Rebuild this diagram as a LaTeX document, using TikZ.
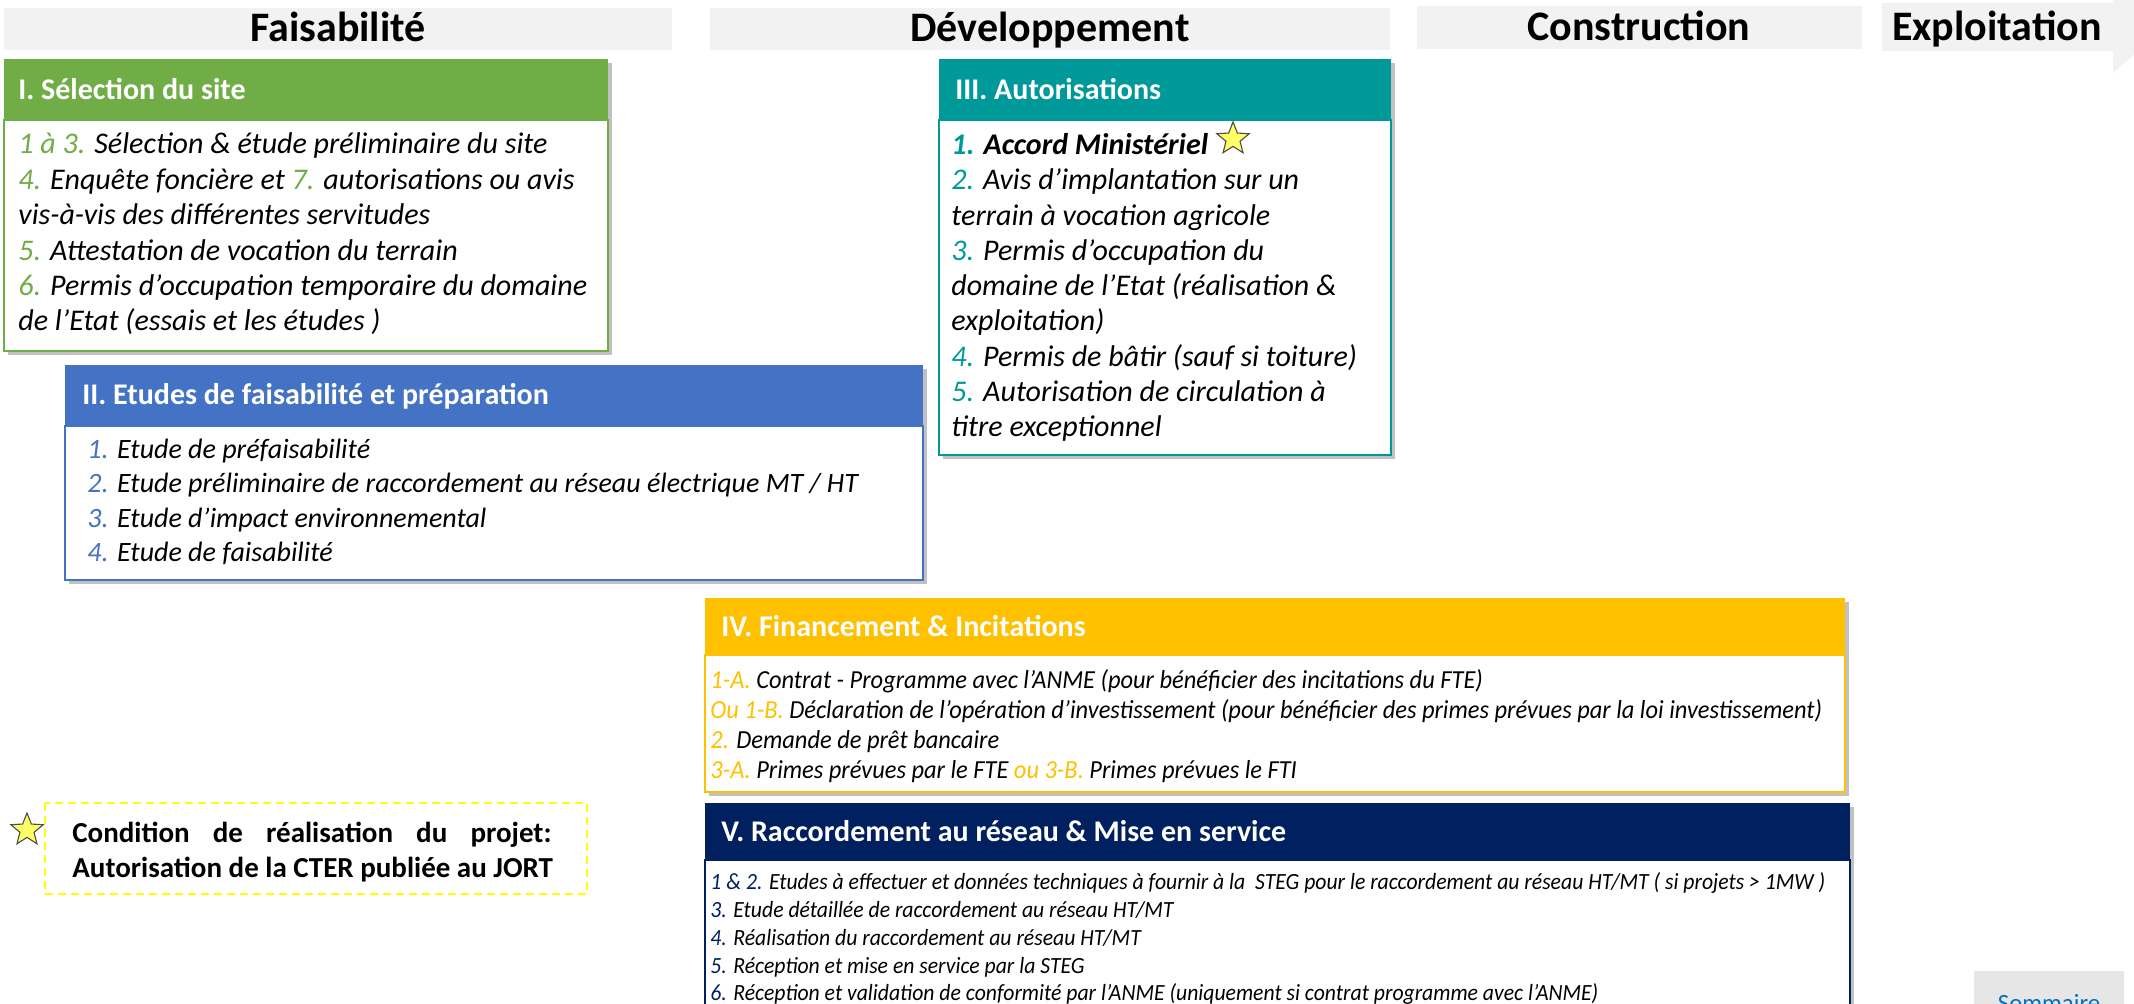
\documentclass[tikz,border=0pt]{standalone}
\usepackage{fontspec}
\setmainfont{Carlito}
\usetikzlibrary{shadows,shapes.geometric}
\definecolor{cgreen}{HTML}{70AD47}
\definecolor{cblue}{HTML}{4472C4}
\definecolor{cteal}{HTML}{009999}
\definecolor{cgold}{HTML}{FFC000}
\definecolor{cnavy}{HTML}{002060}
\definecolor{cphase}{HTML}{F2F2F2}
\definecolor{cbtn}{HTML}{E7E6E6}
\definecolor{csomm}{HTML}{0070C0}
\definecolor{cstar}{HTML}{FFFF66}
\definecolor{cdash}{HTML}{FFFF00}
\newcommand{\fsz}[2]{\fontsize{#1}{#2}\selectfont}
\newcommand{\numG}[1]{\textcolor{cgreen}{#1}}
\newcommand{\numB}[1]{\textcolor{cblue}{#1}}
\newcommand{\numT}[1]{\textcolor{cteal}{#1}}
\newcommand{\numD}[1]{\textcolor{cgold}{#1}}
\newcommand{\numN}[1]{\textcolor{cnavy}{#1}}
\newcommand{\sqD}[1]{\scalebox{0.94}[1]{#1}}
\newcommand{\sqE}[1]{\scalebox{0.935}[1]{#1}}
\newcommand{\stagebox}[6]{%
  \fill[white, drop shadow={shadow xshift=2pt, shadow yshift=-2pt, opacity=0.35, fill=black!70}] (#2,#3) rectangle (#5,#6);
  \fill[#1] (#2,#3) rectangle (#5,#4);
  \draw[#1, line width=1.2pt] (#2,#4) rectangle (#5,#6);
}
\begin{document}
\begin{tikzpicture}[x=0.5pt,y=-0.5pt,
  phase/.style={inner sep=0pt, anchor=base, font=\fsz{21}{25}\bfseries},
  hdr/.style={inner sep=0pt, anchor=base west, text=white, font=\fsz{15}{18}\bfseries},
  lineA/.style={inner sep=0pt, anchor=base west, font=\fsz{15}{18}\itshape},
  lineB/.style={inner sep=0pt, anchor=base west, font=\fsz{14}{17}\itshape},
  lineD/.style={inner sep=0pt, anchor=base west, font=\fsz{13}{15}\itshape},
  lineE/.style={inner sep=0pt, anchor=base west, font=\fsz{11.6}{14}\itshape},
  note/.style={inner sep=0pt, anchor=base west, font=\fsz{14.5}{17.5}\bfseries},
  starmark/.style={star, star points=5, star point ratio=2.3, fill=cstar, draw=black!70, line width=0.55pt, minimum size=17pt, inner sep=0pt}
]
\useasboundingbox (0,0) rectangle (2134,1004);

% phase bars
\fill[cphase] (4,8) rectangle (672,50);
\fill[cphase] (710,8) rectangle (1390,50);
\fill[cphase] (1417,6) rectangle (1862,49);
\fill[cphase] (1882,3) -- (2113,3) -- (2113,-20) -- (2167,26) -- (2113,73) -- (2113,51) -- (1882,51) -- cycle;
\node[phase] (pf) at (338,42) {Faisabilité};
\node[phase] (pd) at (1050,42) {Développement};
\node[phase] (pc) at (1639,41) {Construction};
\node[phase] (pe) at (1997,41) {Exploitation};

% Box I
\stagebox{cgreen}{4}{59}{120}{608}{351}
\node[hdr] (h1) at (18,100) {I. Sélection du site};
\node[lineA] (a1) at (18,154) {\numG{1 à 3.} Sélection \& étude préliminaire du site};
\node[lineA] (a2) at (18,189.5) {\numG{4.} Enquête foncière et \numG{7.} autorisations ou avis};
\node[lineA] (a3) at (18,225) {vis-à-vis des différentes servitudes};
\node[lineA] (a4) at (18,260.5) {\numG{5.} Attestation de vocation du terrain};
\node[lineA] (a5) at (18,296) {\numG{6.} Permis d’occupation temporaire du domaine};
\node[lineA] (a6) at (18,331) {de l’Etat (essais et les études )};

% Box II
\stagebox{cblue}{65}{365}{426}{923}{580}
\node[hdr] (h2) at (82,405) {II. Etudes de faisabilité et préparation};
\node[lineB] (b1) at (87,459) {\numB{1.} Etude de préfaisabilité};
\node[lineB] (b2) at (87,493) {\numB{2.} Etude préliminaire de raccordement au réseau électrique MT / HT};
\node[lineB] (b3) at (87,527.5) {\numB{3.} Etude d’impact environnemental};
\node[lineB] (b4) at (87,562) {\numB{4.} Etude de faisabilité};

% Box III
\stagebox{cteal}{939}{59}{120}{1391}{455}
\node[hdr] (h3) at (955,100) {III. Autorisations};
\node[lineA] (c1) at (951,155) {\textbf{\numT{1.} Accord Ministériel}};
\node[starmark] (s1) at (1233,139) {};
\node[lineA] (c2) at (951,190) {\numT{2.} Avis d’implantation sur un};
\node[lineA] (c3) at (951,225.5) {terrain à vocation agricole};
\node[lineA] (c4) at (951,261) {\numT{3.} Permis d’occupation du};
\node[lineA] (c5) at (951,296) {domaine de l’Etat (réalisation \&};
\node[lineA] (c6) at (951,331) {exploitation)};
\node[lineA] (c7) at (951,366.5) {\numT{4.} Permis de bâtir (sauf si toiture)};
\node[lineA] (c8) at (951,402) {\numT{5.} Autorisation de circulation à};
\node[lineA] (c9) at (951,437) {titre exceptionnel};

% Box IV
\stagebox{cgold}{705}{598}{655}{1845}{792}
\node[hdr] (h4) at (721,636) {IV. Financement \& Incitations};
\node[lineD] (d1) at (710,688) {\sqD{\numD{1-A.} Contrat - Programme avec l’ANME (pour bénéficier des incitations du FTE)}};
\node[lineD] (d2) at (710,718) {\sqD{\numD{Ou 1-B.} Déclaration de l’opération d’investissement (pour bénéficier des primes prévues par la loi investissement)}};
\node[lineD] (d3) at (710,748) {\sqD{\numD{2.} Demande de prêt bancaire}};
\node[lineD] (d4) at (710,778) {\sqD{\numD{3-A.} Primes prévues par le FTE \numD{ou 3-B.} Primes prévues le FTI}};

% Box V
\stagebox{cnavy}{705}{803}{860}{1850}{1040}
\node[hdr] (h5) at (721,841) {V. Raccordement au réseau \& Mise en service};
\node[lineE] (e1) at (710,889) {\sqE{\numN{1 \& 2.} Etudes à effectuer et données techniques à fournir à la\ \ STEG pour le raccordement au réseau HT/MT ( si projets > 1MW )}};
\node[lineE] (e2) at (710,917) {\sqE{\numN{3.} Etude détaillée de raccordement au réseau HT/MT}};
\node[lineE] (e3) at (710,945) {\sqE{\numN{4.} Réalisation du raccordement au réseau HT/MT}};
\node[lineE] (e4) at (710,973) {\sqE{\numN{5.} Réception et mise en service par la STEG}};
\node[lineE] (e5) at (710,1000) {\sqE{\numN{6.} Réception et validation de conformité par l’ANME (uniquement si contrat programme avec l’ANME)}};

% condition note
\draw[cdash, line width=1pt, dash pattern=on 4pt off 2.5pt] (45,803) rectangle (587,894);
\node[starmark] (s2) at (27,830) {};
\node[note] (n1) at (72,842) {\makebox[239.5pt][s]{Condition de réalisation du projet:}};
\node[note] (n2) at (72,877) {Autorisation de la CTER publiée au JORT};

% Sommaire button
\fill[cbtn] (1974,971) rectangle (2124,1010);
\node[inner sep=0pt, anchor=base, text=csomm, font=\fsz{12.4}{15}] (somm) at (2049,1011) {Sommaire};
\end{tikzpicture}
\end{document}
